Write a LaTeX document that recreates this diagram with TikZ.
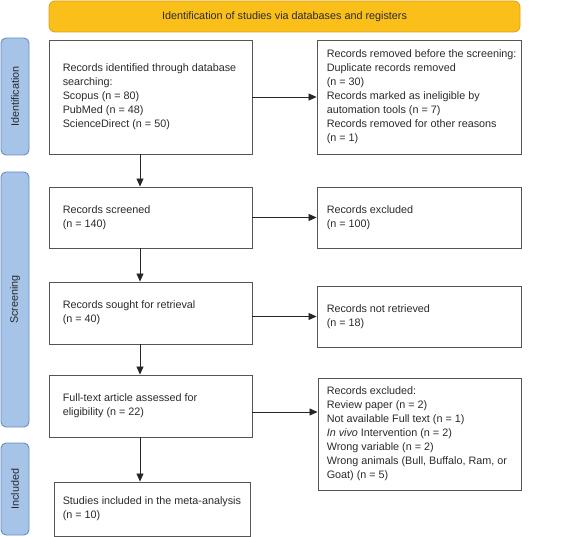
\documentclass[tikz,border=0pt]{standalone}
\usepackage{fontspec}
\setmainfont{Liberation Sans}
\usetikzlibrary{arrows.meta}
\definecolor{bannerfill}{HTML}{FBBF1A}
\definecolor{bannerdraw}{HTML}{D9A21A}
\definecolor{barfill}{HTML}{A6C3E8}
\definecolor{bardraw}{HTML}{6B8EBF}
\definecolor{boxdraw}{HTML}{555555}
\definecolor{txtcol}{HTML}{2A2A2A}
\tikzset{
  box/.style={draw=boxdraw, line width=0.9pt, rectangle, inner sep=0pt},
  txt/.style={anchor=west, align=left, inner sep=0pt, text=txtcol,
    font=\fontsize{10.8}{14}\selectfont},
  bar/.style={draw=bardraw, fill=barfill, line width=0.9pt, rounded corners=5pt,
    minimum width=28pt, inner sep=0pt},
  barlabel/.style={rotate=90, text=txtcol, font=\fontsize{10.8}{14}\selectfont},
  banner/.style={draw=bannerdraw, fill=bannerfill, line width=0.8pt, rounded corners=6pt,
    minimum width=471pt, minimum height=31pt, inner sep=0pt, text=txtcol,
    font=\fontsize{10.8}{14}\selectfont},
  arr/.style={draw=black!85, line width=0.8pt, -{Triangle[length=8pt,width=7pt]}}
}
\begin{document}
\begin{tikzpicture}[x=1pt,y=-1pt]
\useasboundingbox (0,0) rectangle (564,537);
% banner
\node[banner] (ban) at (284.5,16.5) {Identification of studies via databases and registers};
% side bars
\node[bar, minimum height=117pt] (idbar) at (15,96.5) {};
\node[barlabel] (idlab) at (idbar.center) {Identification};
\node[bar, minimum height=255pt] (scbar) at (15,299.5) {};
\node[barlabel] (sclab) at (scbar.center) {Screening};
\node[bar, minimum height=92pt] (inbar) at (15,489) {};
\node[barlabel] (inlab) at (inbar.center) {Included};
% boxes
\node[box, minimum width=203pt, minimum height=114pt] (b1) at (150.5,97) {};
\node[txt] (b1t) at ([xshift=14pt]b1.west) {Records identified through database\\searching:\\Scopus (n = 80)\\PubMed (n = 48)\\ScienceDirect (n = 50)};
\node[box, minimum width=204pt, minimum height=114pt] (r1) at (419,97) {};
\node[txt] (r1t) at ([xshift=10pt]r1.west) {Records removed before the screening:\\Duplicate records removed\\(n = 30)\\Records marked as ineligible by\\automation tools (n = 7)\\Records removed for other reasons\\(n = 1)};
\node[box, minimum width=203pt, minimum height=61pt] (b2) at (150.5,217.5) {};
\node[txt] (b2t) at ([xshift=14pt]b2.west) {Records screened\\(n = 140)};
\node[box, minimum width=204pt, minimum height=61pt] (r2) at (419,217.5) {};
\node[txt] (r2t) at ([xshift=10pt]r2.west) {Records excluded\\(n = 100)};
\node[box, minimum width=203pt, minimum height=62pt] (b3) at (150.5,313) {};
\node[txt] (b3t) at ([xshift=14pt]b3.west) {Records sought for retrieval\\(n = 40)};
\node[box, minimum width=204pt, minimum height=61pt] (r3) at (419,316.5) {};
\node[txt] (r3t) at ([xshift=10pt]r3.west) {Records not retrieved\\(n = 18)};
\node[box, minimum width=203pt, minimum height=62pt] (b4) at (150.5,406) {};
\node[txt] (b4t) at ([xshift=14pt]b4.west) {Full-text article assessed for\\eligibility (n = 22)};
\node[box, minimum width=203pt, minimum height=112pt] (r4) at (419.5,434) {};
\node[txt] (r4t) at ([xshift=9pt]r4.west) {Records excluded:\\Review paper (n = 2)\\Not available Full text (n = 1)\\\textit{In vivo} Intervention (n = 2)\\Wrong variable (n = 2)\\Wrong animals (Bull, Buffalo, Ram, or\\Goat) (n = 5)};
\node[box, minimum width=196pt, minimum height=54pt] (b5) at (152,509) {};
\node[txt] (b5t) at ([xshift=9pt]b5.west) {Studies included in the meta-analysis\\(n = 10)};
% arrows
\coordinate (ax) at (140,0);
\draw[arr] (b1.south -| ax) -- (b2.north -| ax);
\draw[arr] (b2.south -| ax) -- (b3.north -| ax);
\draw[arr] (b3.south -| ax) -- (b4.north -| ax);
\draw[arr] (b4.south -| ax) -- (b5.north -| ax);
\draw[arr] (b1.east) -- (r1.west);
\draw[arr] (b2.east) -- (r2.west);
\draw[arr] (b3.east |- r3.west) -- (r3.west);
\draw[arr] ([yshift=-6pt]b4.east) -- ([yshift=-6pt]b4.east -| r4.west);
\end{tikzpicture}
\end{document}
